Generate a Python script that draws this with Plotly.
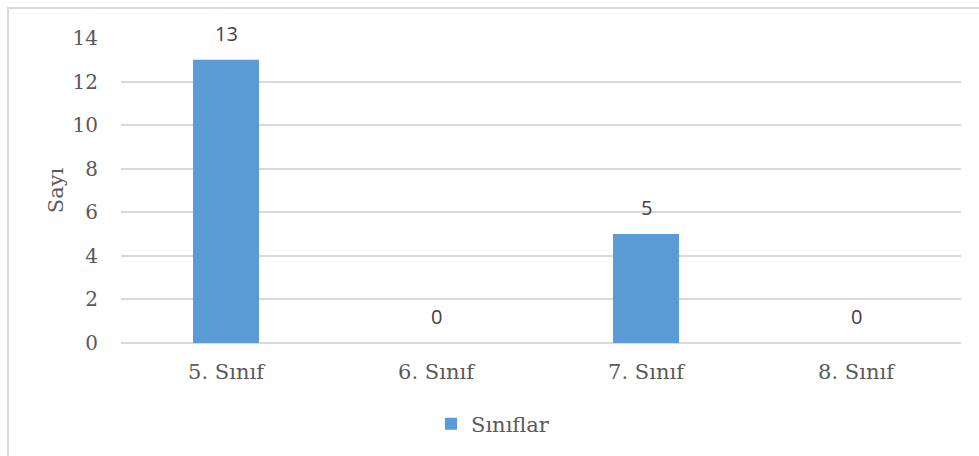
import plotly.graph_objects as go

# Öğrenci sayıları (sınıf düzeyine göre)
categories = ["5. Sınıf", "6. Sınıf", "7. Sınıf", "8. Sınıf"]
values = [13, 0, 5, 0]
series_name = "Sınıflar"
y_ticks = [0, 2, 4, 6, 8, 10, 12, 14]

BAR_COLOR = "#5B9BD5"
TEXT_COLOR = "#595959"
GRID_COLOR = "#D9D9D9"
SERIF = "DejaVu Serif, Liberation Serif, serif"
SANS = "Open Sans, Noto Sans, sans-serif"

W, H = 979, 456
L, R, T, B = 121, 18, 38, 113
pw = W - L - R
ph = H - T - B


def px_to_paper_x(px):
    return (px - L) / pw


def px_to_paper_y(py):
    return (H - B - py) / ph


fig = go.Figure()
fig.add_trace(go.Bar(
    x=categories,
    y=values,
    name=series_name,
    marker=dict(color=BAR_COLOR, line=dict(width=0)),
    width=0.314,
    showlegend=True,
))

# value labels above each bar
for c, v in zip(categories, values):
    fig.add_annotation(
        x=c, y=v, text=str(v), showarrow=False,
        yanchor="bottom", yshift=11,
        font=dict(family=SANS, size=20, color="#404040"),
    )

# outer chart frame
fig.add_shape(
    type="rect", xref="paper", yref="paper",
    x0=px_to_paper_x(8), x1=px_to_paper_x(W + 5),
    y0=px_to_paper_y(H + 5), y1=px_to_paper_y(8),
    line=dict(color=GRID_COLOR, width=2), fillcolor="rgba(0,0,0,0)",
    layer="below",
)

fig.update_layout(
    width=W, height=H,
    margin=dict(l=L, r=R, t=T, b=B, autoexpand=False),
    paper_bgcolor="white", plot_bgcolor="white",
    font=dict(family=SERIF, color=TEXT_COLOR, size=20),
    bargap=0.686,
    legend=dict(
        orientation="h",
        x=px_to_paper_x(431), xanchor="left",
        y=px_to_paper_y(424), yanchor="middle",
        font=dict(family=SERIF, size=21, color=TEXT_COLOR),
        itemwidth=30,
    ),
    xaxis=dict(
        showgrid=False, showline=False, zeroline=False,
        ticks="outside", ticklen=10, tickcolor="rgba(0,0,0,0)",
        tickfont=dict(family=SERIF, size=21, color=TEXT_COLOR),
    ),
    yaxis=dict(
        range=[0, 14], tickvals=y_ticks,
        showgrid=True, gridcolor=GRID_COLOR, gridwidth=1.5,
        zeroline=True, zerolinecolor=GRID_COLOR, zerolinewidth=1.5,
        showline=False,
        ticks="outside", ticklen=18, tickcolor="rgba(0,0,0,0)",
        tickfont=dict(family=SERIF, size=20, color=TEXT_COLOR),
        title=dict(text="Sayı", font=dict(family=SERIF, size=21, color=TEXT_COLOR), standoff=3),
    ),
)

fig.write_html("out.html")
